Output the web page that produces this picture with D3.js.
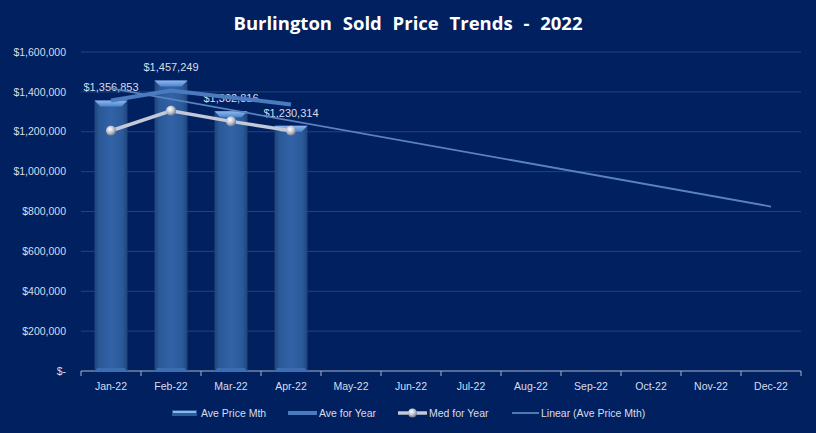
<!DOCTYPE html>
<html lang="en">
<head>
  <meta charset="UTF-8">
  <title>Burlington Sold Price Trends - 2022</title>
  <script src="https://d3js.org/d3.v7.min.js"></script>
  <style>
    html, body { margin: 0; padding: 0; background: #002060; }
    svg { display: block; font-family: "Liberation Sans", "DejaVu Sans", sans-serif; }
    .tick-label { fill: #d9dde8; font-size: 10.5px; }
    .legend { fill: #d9dde8; font-size: 10.5px; }
    .data-label { fill: #d9dde8; font-size: 11px; }
  </style>
</head>
<body>
  <svg width="816" height="433"></svg>

  <script>
    // values
    const months = ["Jan-22", "Feb-22", "Mar-22", "Apr-22", "May-22", "Jun-22",
                    "Jul-22", "Aug-22", "Sep-22", "Oct-22", "Nov-22", "Dec-22"];
    const avePriceMth = [1356853, 1457249, 1302816, 1230314];
    const aveForYear = [1356853, 1407051, 1372306, 1336808];
    const medForYear = [1205000, 1305000, 1252000, 1205000];
    const trendMonths = ["Jan-22", "Dec-22"];
    const trendValues = [1417000, 825000];
    const yTicks = [0, 200000, 400000, 600000, 800000, 1000000, 1200000, 1400000, 1600000];
    const legendNames = ["Ave Price Mth", "Ave for Year", "Med for Year", "Linear (Ave Price Mth)"];

    const svg = d3.select("svg"),
          margin = {top: 52, right: 15, bottom: 62, left: 81},
          width = 816 - margin.left - margin.right,
          height = 433 - margin.top - margin.bottom,
          g = svg.append("g").attr("transform", `translate(${margin.left},${margin.top})`);

    svg.insert("rect", ":first-child").attr("width", 816).attr("height", 433).attr("fill", "#002060");

    const defs = svg.append("defs");
    const barGrad = defs.append("linearGradient").attr("id", "barBody").attr("x1", 0).attr("x2", 1).attr("y1", 0).attr("y2", 0);
    barGrad.append("stop").attr("offset", "0%").attr("stop-color", "#1f4479");
    barGrad.append("stop").attr("offset", "15%").attr("stop-color", "#2b5998");
    barGrad.append("stop").attr("offset", "50%").attr("stop-color", "#3263a6");
    barGrad.append("stop").attr("offset", "85%").attr("stop-color", "#2b5998");
    barGrad.append("stop").attr("offset", "100%").attr("stop-color", "#1f4479");
    const bevelGrad = defs.append("linearGradient").attr("id", "barTop").attr("x1", 0).attr("x2", 0).attr("y1", 0).attr("y2", 1);
    bevelGrad.append("stop").attr("offset", "0%").attr("stop-color", "#8db8ee");
    bevelGrad.append("stop").attr("offset", "100%").attr("stop-color", "#4d84cc");
    const ballGrad = defs.append("radialGradient").attr("id", "ball").attr("cx", "40%").attr("cy", "35%").attr("r", "65%");
    ballGrad.append("stop").attr("offset", "0%").attr("stop-color", "#ffffff");
    ballGrad.append("stop").attr("offset", "60%").attr("stop-color", "#b8bfcc");
    ballGrad.append("stop").attr("offset", "100%").attr("stop-color", "#6c7487");

    const x = d3.scaleBand().domain(months).range([0, width]).paddingInner(0.45).paddingOuter(0.225);
    const xc = d => x(d) + x.bandwidth() / 2;
    const y = d3.scaleLinear().domain([0, 1600000]).range([height, 0]);

    // gridlines
    g.append("g")
      .selectAll("line")
      .data(yTicks.slice(1))
      .join("line")
      .attr("x1", 0).attr("x2", width)
      .attr("y1", d => y(d)).attr("y2", d => y(d))
      .attr("stroke", "#24427c").attr("stroke-width", 1);

    // y axis labels
    g.append("g")
      .selectAll("text")
      .data(yTicks)
      .join("text")
      .attr("class", "tick-label")
      .attr("x", -15)
      .attr("y", d => y(d))
      .attr("dy", "0.35em")
      .attr("text-anchor", "end")
      .text(d => d === 0 ? "$-" : d3.format("$,")(d));

    // x axis
    const xAxis = g.append("g").attr("transform", `translate(0,${height})`);
    xAxis.append("line").attr("x1", 0).attr("x2", width).attr("stroke", "#a9b4c8");
    const step = x.step();
    const edges = d3.range(months.length + 1).map(i => i * step);
    xAxis.selectAll(".tk").data(edges).join("line")
      .attr("class", "tk")
      .attr("x1", d => d).attr("x2", d => d)
      .attr("y1", 0).attr("y2", 5)
      .attr("stroke", "#a9b4c8");
    xAxis.selectAll("text").data(months).join("text")
      .attr("class", "tick-label")
      .attr("x", d => xc(d))
      .attr("y", 19)
      .attr("text-anchor", "middle")
      .text(d => d);

    // bars
    const barData = avePriceMth.map((v, i) => ({m: months[i], v}));
    const bw = x.bandwidth(), bev = 6;
    const bars = g.append("g").selectAll("g").data(barData).join("g");
    bars.append("rect")
      .attr("x", d => x(d.m))
      .attr("y", d => y(d.v))
      .attr("width", bw)
      .attr("height", d => height - y(d.v))
      .attr("fill", "url(#barBody)");
    bars.append("path")
      .attr("d", d => {
        const x0 = x(d.m), x1 = x0 + bw, t = y(d.v);
        return `M${x0},${t}L${x1},${t}L${x1 - bev},${t + bev}L${x0 + bev},${t + bev}Z`;
      })
      .attr("fill", "url(#barTop)");
    bars.append("path")
      .attr("d", d => {
        const x0 = x(d.m), x1 = x0 + bw, b = height;
        return `M${x0},${b}L${x1},${b}L${x1 - 3},${b - 3}L${x0 + 3},${b - 3}Z`;
      })
      .attr("fill", "#3b6cb0");

    // data labels
    g.append("g").selectAll("text").data(barData).join("text")
      .attr("class", "data-label")
      .attr("x", d => xc(d.m))
      .attr("y", d => y(d.v) - 9)
      .attr("text-anchor", "middle")
      .text(d => d3.format("$,")(d.v));

    // linear trend
    g.append("path")
      .datum(trendValues.map((v, i) => ({m: trendMonths[i], v})))
      .attr("d", d3.line().x(d => xc(d.m)).y(d => y(d.v)))
      .attr("fill", "none")
      .attr("stroke", "#5a83bd")
      .attr("stroke-width", 1.8);

    // ave for year
    g.append("path")
      .datum(aveForYear.map((v, i) => ({m: months[i], v})))
      .attr("d", d3.line().x(d => xc(d.m)).y(d => y(d.v)))
      .attr("fill", "none")
      .attr("stroke", "#4a7bbf")
      .attr("stroke-width", 4);

    // med for year
    const medData = medForYear.map((v, i) => ({m: months[i], v}));
    g.append("path")
      .datum(medData)
      .attr("d", d3.line().x(d => xc(d.m)).y(d => y(d.v)))
      .attr("fill", "none")
      .attr("stroke", "#c3c9d6")
      .attr("stroke-width", 3.5);
    g.append("g").selectAll("circle").data(medData).join("circle")
      .attr("cx", d => xc(d.m))
      .attr("cy", d => y(d.v))
      .attr("r", 5)
      .attr("fill", "url(#ball)");

    // title
    svg.append("text")
      .attr("x", 408)
      .attr("y", 30)
      .attr("text-anchor", "middle")
      .attr("fill", "#ffffff")
      .attr("font-weight", "bold")
      .attr("font-size", "18.5px")
      .attr("word-spacing", "6px")
      .style("font-family", "'Open Sans', sans-serif")
      .text("Burlington Sold Price Trends - 2022");

    // legend
    const lg = svg.append("g").attr("transform", "translate(0,413)");
    lg.append("rect").attr("x", 172).attr("y", -3).attr("width", 25).attr("height", 6).attr("fill", "#2d5c9c");
    lg.append("rect").attr("x", 173).attr("y", -2).attr("width", 23).attr("height", 2).attr("fill", "#8db8ee");
    lg.append("line").attr("x1", 288).attr("x2", 317).attr("stroke", "#4a7bbf").attr("stroke-width", 4);
    lg.append("line").attr("x1", 398).attr("x2", 427).attr("stroke", "#c3c9d6").attr("stroke-width", 3.5);
    lg.append("circle").attr("cx", 412.5).attr("cy", 0).attr("r", 4.5).attr("fill", "url(#ball)");
    lg.append("line").attr("x1", 512).attr("x2", 539).attr("stroke", "#5a83bd").attr("stroke-width", 1.8);
    const lx = [201, 319, 429, 541];
    lg.selectAll("text.legend").data(legendNames).join("text")
      .attr("class", "legend")
      .attr("x", (d, i) => lx[i])
      .attr("y", 0)
      .attr("dy", "0.35em")
      .text(d => d);
  </script>
</body>
</html>
